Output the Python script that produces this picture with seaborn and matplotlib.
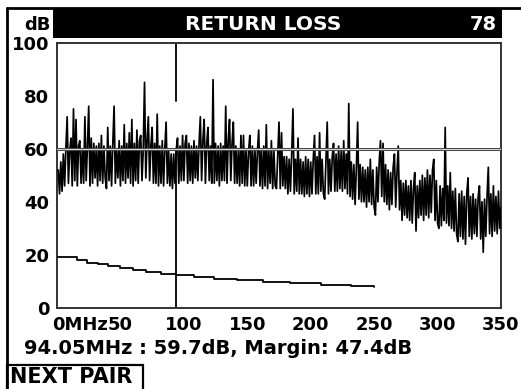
import numpy as np
import pandas as pd
import matplotlib
matplotlib.use("Agg")
import matplotlib.pyplot as plt
import matplotlib.patches as mpatches
import matplotlib.lines as mlines
import matplotlib.transforms as mtransforms
import matplotlib.patheffects as pe
import seaborn as sns

# ---------------- data ----------------
title = "RETURN LOSS"
pair_no = "78"
y_axis_unit = "dB"
x_ticks = [0, 50, 100, 150, 200, 250, 300, 350]
x_tick_labels = ["0MHz", "50", "100", "150", "200", "250", "300", "350"]
y_ticks = [0, 20, 40, 60, 80, 100]
y_tick_labels = ["0", "20", "40", "60", "80", "100"]

# measured return loss trace, one sample per MHz starting at 1 MHz
f_start = 1.0
f_step = 1.0
rl_db = [
    52, 43, 55, 44, 58, 46, 60, 72, 47, 59,
    64, 46, 75, 48, 71, 46, 61, 63, 47, 60,
    47, 72, 48, 61, 76, 46, 64, 47, 62, 49,
    61, 46, 62, 48, 65, 47, 61, 49, 45, 68,
    48, 61, 46, 62, 76, 47, 60, 49, 63, 46,
    61, 48, 69, 47, 62, 49, 66, 47, 71, 46,
    62, 48, 67, 47, 63, 65, 48, 60, 85, 49,
    63, 72, 48, 61, 68, 47, 62, 47, 73, 46,
    61, 47, 63, 46, 60, 70, 47, 59, 46, 58,
    45, 58, 47, 59.7, 64, 47, 61, 48, 65, 48,
    62, 65, 47, 62, 48, 61, 47, 63, 49, 61,
    48, 62, 72, 48, 63, 71, 47, 62, 68, 48,
    61, 47, 86, 47, 62, 48, 61, 46, 62, 48,
    61, 48, 76, 47, 63, 71, 48, 62, 70, 47,
    61, 47, 60, 46, 65, 47, 65, 46, 60, 46,
    59, 65, 46, 61, 46, 60, 47, 59, 67, 46,
    60, 45, 61, 46, 69, 45, 59, 47, 63, 45,
    59, 46, 45, 58, 70, 45, 66, 46, 57, 45,
    57, 43, 56, 44, 58, 75, 43, 56, 44, 64,
    43, 56, 43, 55, 42, 57, 43, 56, 42, 55,
    43, 56, 65, 43, 57, 43, 66, 44, 56, 43,
    41, 55, 70, 43, 56, 44, 57, 62, 44, 58,
    44, 61, 45, 59, 44, 63, 45, 58, 43, 77,
    42, 55, 41, 54, 39, 53, 70, 41, 54, 40,
    53, 40, 52, 38, 53, 40, 56, 39, 52, 38,
    35, 53, 40, 55, 63, 42, 62, 40, 54, 39,
    52, 37, 51, 39, 53, 58, 38, 51, 61, 37,
    48, 33, 47, 35, 48, 34, 46, 33, 48, 32,
    45, 51, 29, 46, 34, 48, 35, 50, 33, 49,
    35, 52, 34, 50, 36, 52, 56, 33, 48, 32,
    30, 46, 31, 45, 33, 68, 32, 46, 31, 51,
    30, 44, 29, 45, 28, 25, 43, 27, 44, 26,
    42, 24, 43, 49, 27, 42, 26, 43, 28, 41,
    27, 42, 46, 26, 40, 21, 41, 27, 42, 53,
    28, 43, 27, 46, 29, 42, 28, 44, 30, 38,
]

# cable limit line (stepped), MHz / dB
limit_mhz = [0, 16, 24, 32, 40, 50, 60, 70, 82, 94, 108, 124, 142, 162, 184, 208, 232, 250]
limit_db = [19.2, 18.0, 17.1, 16.5, 15.8, 15.0, 14.2, 13.5, 12.9, 12.3, 11.7, 11.1, 10.5, 9.9, 9.4, 8.8, 8.3, 8.0]

cursor_mhz = 94.05
cursor_db = 59.7
cursor_top_gap_db = 78
margin_db = 47.4
button = "NEXT PAIR"

# ---------------- figure ----------------
W, H = 521, 389
sns.set_style("white")
plt.rcParams["font.family"] = ["DejaVu Sans"]
plt.rcParams["font.weight"] = "bold"

fig = plt.figure(figsize=(W / 100, H / 100), dpi=100)


def fx(px):
    return px / W


def fy(py):
    return 1 - py / H


ax = fig.add_axes([fx(57), fy(308), (501 - 57) / W, (308 - 42.5) / H])

freq = f_start + f_step * np.arange(len(rl_db))
trace = pd.DataFrame({"MHz": freq, "dB": rl_db})
limit = pd.DataFrame({"MHz": limit_mhz, "dB": limit_db})

sns.lineplot(data=trace, x="MHz", y="dB", ax=ax, color="black", lw=1.25,
             estimator=None, sort=False, zorder=3)
sns.lineplot(data=limit, x="MHz", y="dB", ax=ax, color="black", lw=1.3,
             estimator=None, sort=False, drawstyle="steps-post", zorder=3)

# horizontal cursor level
ax.axhline(cursor_db, color="#d8d8d8", lw=0.7, zorder=4,
           path_effects=[pe.Stroke(linewidth=2.2, foreground="#4a4a4a"), pe.Normal()])
# vertical cursor
ax.plot([cursor_mhz, cursor_mhz], [0, cursor_db], color="black", lw=1.3, zorder=2)
ax.plot([cursor_mhz, cursor_mhz], [cursor_top_gap_db, 100], color="black", lw=1.3, zorder=2)

ax.set_xlim(0, 350)
ax.set_ylim(0, 100)
ax.set_xticks(x_ticks)
ax.set_xticklabels(x_tick_labels)
ax.set_yticks(y_ticks)
ax.set_yticklabels(y_tick_labels)
ax.set_xlabel("")
ax.set_ylabel("")
for s in ax.spines.values():
    s.set_visible(True)
    s.set_color("#333333")
    s.set_linewidth(1.4)
ax.tick_params(axis="both", direction="out", length=5, width=1.2, color="#333333",
               labelsize=13, pad=0.5, labelcolor="black")
for lab in ax.get_xticklabels() + ax.get_yticklabels():
    lab.set_fontweight("bold")

# shift the "0MHz" label so the zero sits on the tick
first = ax.get_xticklabels()[0]
first.set_ha("left")
first.set_transform(first.get_transform() +
                    mtransforms.ScaledTranslation(-5 / 100, 0, fig.dpi_scale_trans))

# ---------------- screen frame ----------------
fig.add_artist(mlines.Line2D([fx(7), fx(521)], [fy(8), fy(8)], color="black", lw=2))
fig.add_artist(mlines.Line2D([fx(7), fx(7)], [fy(8), fy(389)], color="black", lw=2))
fig.add_artist(mpatches.Rectangle((fx(53), fy(38)), fx(502) - fx(53), fy(9) - fy(38),
                                  transform=fig.transFigure, facecolor="black",
                                  edgecolor="none"))
fig.text(fx(263), fy(24), title, color="white", ha="center", va="center",
         fontsize=14.5, fontweight="bold")
fig.text(fx(497), fy(24), pair_no, color="white", ha="right", va="center",
         fontsize=14, fontweight="bold")
fig.text(fx(51), fy(25), y_axis_unit, color="black", ha="right", va="center",
         fontsize=13, fontweight="bold")

readout = f"{cursor_mhz:.2f}MHz : {cursor_db:.1f}dB, Margin: {margin_db:.1f}dB"
fig.text(fx(24), fy(349), readout, color="black", ha="left", va="center",
         fontsize=14, fontweight="bold")

fig.add_artist(mpatches.Rectangle((fx(7), fy(392)), fx(143) - fx(7), fy(365) - fy(392),
                                  transform=fig.transFigure, facecolor="none",
                                  edgecolor="black", lw=1.6))
fig.text(fx(10), fy(377), button, color="black", ha="left", va="center",
         fontsize=15, fontweight="bold")

fig.savefig("out.png", dpi=100, facecolor="white")
